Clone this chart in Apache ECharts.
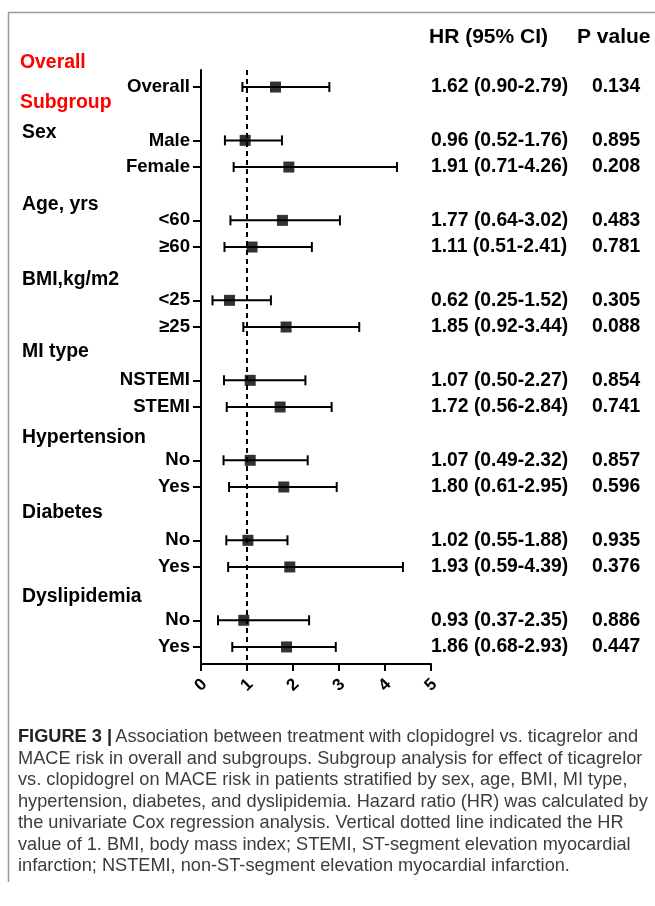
<!DOCTYPE html>
<html>
<head>
<meta charset="utf-8">
<script src="https://cdn.jsdelivr.net/npm/echarts@6/dist/echarts.min.js"></script>
<style>
html,body{margin:0;padding:0;background:#fff;}
#chart{width:655px;height:906px;}
</style>
</head>
<body>
<div id="chart"></div>
<script>
// ---- data ----
const groupNames = ['Sex', 'Age, yrs', 'BMI,kg/m2', 'MI type', 'Hypertension', 'Diabetes', 'Dyslipidemia'];
const rowLabels = ['Overall', 'Male', 'Female', '<60', '≥60', '<25', '≥25', 'NSTEMI', 'STEMI', 'No', 'Yes', 'No', 'Yes', 'No', 'Yes'];
const hrValues = [1.62, 0.96, 1.91, 1.77, 1.11, 0.62, 1.85, 1.07, 1.72, 1.07, 1.80, 1.02, 1.93, 0.93, 1.86];
const ciLower = [0.90, 0.52, 0.71, 0.64, 0.51, 0.25, 0.92, 0.50, 0.56, 0.49, 0.61, 0.55, 0.59, 0.37, 0.68];
const ciUpper = [2.79, 1.76, 4.26, 3.02, 2.41, 1.52, 3.44, 2.27, 2.84, 2.32, 2.95, 1.88, 4.39, 2.35, 2.93];
const pValues = ['0.134', '0.895', '0.208', '0.483', '0.781', '0.305', '0.088', '0.854', '0.741', '0.857', '0.596', '0.935', '0.376', '0.886', '0.447'];
const xTicks = [0, 1, 2, 3, 4, 5];
const refHR = 1;
const captionLines = [
  'Association between treatment with clopidogrel vs. ticagrelor and',
  'MACE risk in overall and subgroups. Subgroup analysis for effect of ticagrelor',
  'vs. clopidogrel on MACE risk in patients stratified by sex, age, BMI, MI type,',
  'hypertension, diabetes, and dyslipidemia. Hazard ratio (HR) was calculated by',
  'the univariate Cox regression analysis. Vertical dotted line indicated the HR',
  'value of 1. BMI, body mass index; STEMI, ST-segment elevation myocardial',
  'infarction; NSTEMI, non-ST-segment elevation myocardial infarction.'
];

// ---- row layout: overall row 0, then each group = blank header slot + 2 rows ----
const rows = rowLabels.map((_, i) => i === 0 ? 0 : 2 + 3 * Math.floor((i - 1) / 2) + ((i - 1) % 2));
const labelAt = {};
const statAt = {};
rows.forEach((r, i) => {
  labelAt[r] = rowLabels[i];
  const s = hrValues[i].toFixed(2) + ' (' + ciLower[i].toFixed(2) + '-' + ciUpper[i].toFixed(2) + ')';
  statAt[r] = '{a|' + s + '}{b|' + pValues[i] + '}';
});

const FF = '"Liberation Sans", Arial, Helvetica, sans-serif';
const chart = echarts.init(document.getElementById('chart'), null, {renderer: 'canvas'});

const groupHeaderY = [133, 205, 280, 352, 438, 513, 597];
const graphics = [
  {type: 'line', shape: {x1: 8.5, y1: 12, x2: 8.5, y2: 882}, style: {stroke: '#9a9a9a', lineWidth: 1.5}},
  {type: 'line', shape: {x1: 8, y1: 12.5, x2: 655, y2: 12.5}, style: {stroke: '#9a9a9a', lineWidth: 1.5}},
  {type: 'text', x: 429, y: 37, style: {text: 'HR (95% CI)', font: 'bold 21px ' + FF, fill: '#000', textVerticalAlign: 'middle'}},
  {type: 'text', x: 577, y: 37, style: {text: 'P value', font: 'bold 21px ' + FF, fill: '#000', textVerticalAlign: 'middle'}},
  {type: 'text', x: 20, y: 63, style: {text: 'Overall', font: 'bold 19.4px ' + FF, fill: '#ff0000', textVerticalAlign: 'middle'}},
  {type: 'text', x: 20, y: 103, style: {text: 'Subgroup', font: 'bold 19.4px ' + FF, fill: '#ff0000', textVerticalAlign: 'middle'}}
];
groupNames.forEach((g, k) => {
  graphics.push({type: 'text', x: 22, y: groupHeaderY[k], style: {text: g, font: 'bold 19.4px ' + FF, fill: '#000', textVerticalAlign: 'middle'}});
});
captionLines.forEach((line, k) => {
  const txt = k === 0 ? '{b|FIGURE 3 |} {n|' + line + '}' : '{n|' + line + '}';
  graphics.push({type: 'text', x: 18, y: 737 + k * 21.5, style: {
    text: txt, textVerticalAlign: 'middle',
    rich: {
      b: {font: 'bold 18.2px ' + FF, fill: '#222'},
      n: {font: '18.2px ' + FF, fill: '#3c3c3c'}
    }
  }});
});

const option = {
  animation: false,
  backgroundColor: '#fff',
  grid: {left: 201, right: 224, top: 70, bottom: 242, containLabel: false},
  xAxis: {
    type: 'value', min: 0, max: 5, interval: 1,
    axisLine: {show: true, onZero: false, lineStyle: {color: '#000', width: 2}},
    axisTick: {show: true, length: 7, lineStyle: {color: '#000', width: 2}},
    splitLine: {show: false},
    axisLabel: {rotate: 45, margin: 21, align: 'center', verticalAlign: 'middle',
      color: '#000', fontSize: 17, fontWeight: 'bold', fontFamily: FF,
      formatter: v => String(xTicks[xTicks.indexOf(v)])}
  },
  yAxis: [
    {
      type: 'value', inverse: true, min: -0.64, max: 21.64,
      axisLine: {show: true, onZero: false, lineStyle: {color: '#000', width: 2}},
      axisTick: {show: true, customValues: rows, length: 8, lineStyle: {color: '#000', width: 2}},
      splitLine: {show: false},
      axisLabel: {customValues: rows, margin: 11, color: '#000', fontSize: 18.6, fontWeight: 'bold', fontFamily: FF,
        formatter: v => labelAt[v] || ''}
    },
    {
      type: 'value', inverse: true, min: -0.64, max: 21.64, position: 'right',
      axisLine: {show: false}, axisTick: {show: false}, splitLine: {show: false},
      axisLabel: {customValues: rows, margin: 0, align: 'left', formatter: v => statAt[v] || '',
        rich: {
          a: {width: 161, fontSize: 19.3, fontWeight: 'bold', fontFamily: FF, color: '#000'},
          b: {fontSize: 19.3, fontWeight: 'bold', fontFamily: FF, color: '#000'}
        }}
    }
  ],
  series: [
    {
      type: 'custom', z: 3,
      data: rows.map((r, i) => [ciLower[i], ciUpper[i], r]),
      encode: {x: [0, 1], y: 2},
      renderItem: function (params, api) {
        const a = api.coord([api.value(0), api.value(2)]);
        const b = api.coord([api.value(1), api.value(2)]);
        const c = 5;
        const st = {stroke: '#000', lineWidth: 2};
        return {type: 'group', children: [
          {type: 'line', shape: {x1: a[0], y1: a[1], x2: b[0], y2: b[1]}, style: st},
          {type: 'line', shape: {x1: a[0], y1: a[1] - c, x2: a[0], y2: a[1] + c}, style: st},
          {type: 'line', shape: {x1: b[0], y1: b[1] - c, x2: b[0], y2: b[1] + c}, style: st}
        ]};
      }
    },
    {
      type: 'scatter', z: 4,
      symbol: 'rect', symbolSize: 11,
      itemStyle: {color: '#000'},
      data: rows.map((r, i) => [hrValues[i], r]),
      markLine: {
        silent: true, symbol: ['none', 'none'], label: {show: false},
        lineStyle: {color: '#000', width: 2, type: [5, 4]},
        data: [{xAxis: refHR}]
      }
    }
  ],
  graphic: graphics
};
chart.setOption(option);
</script>
</body>
</html>
